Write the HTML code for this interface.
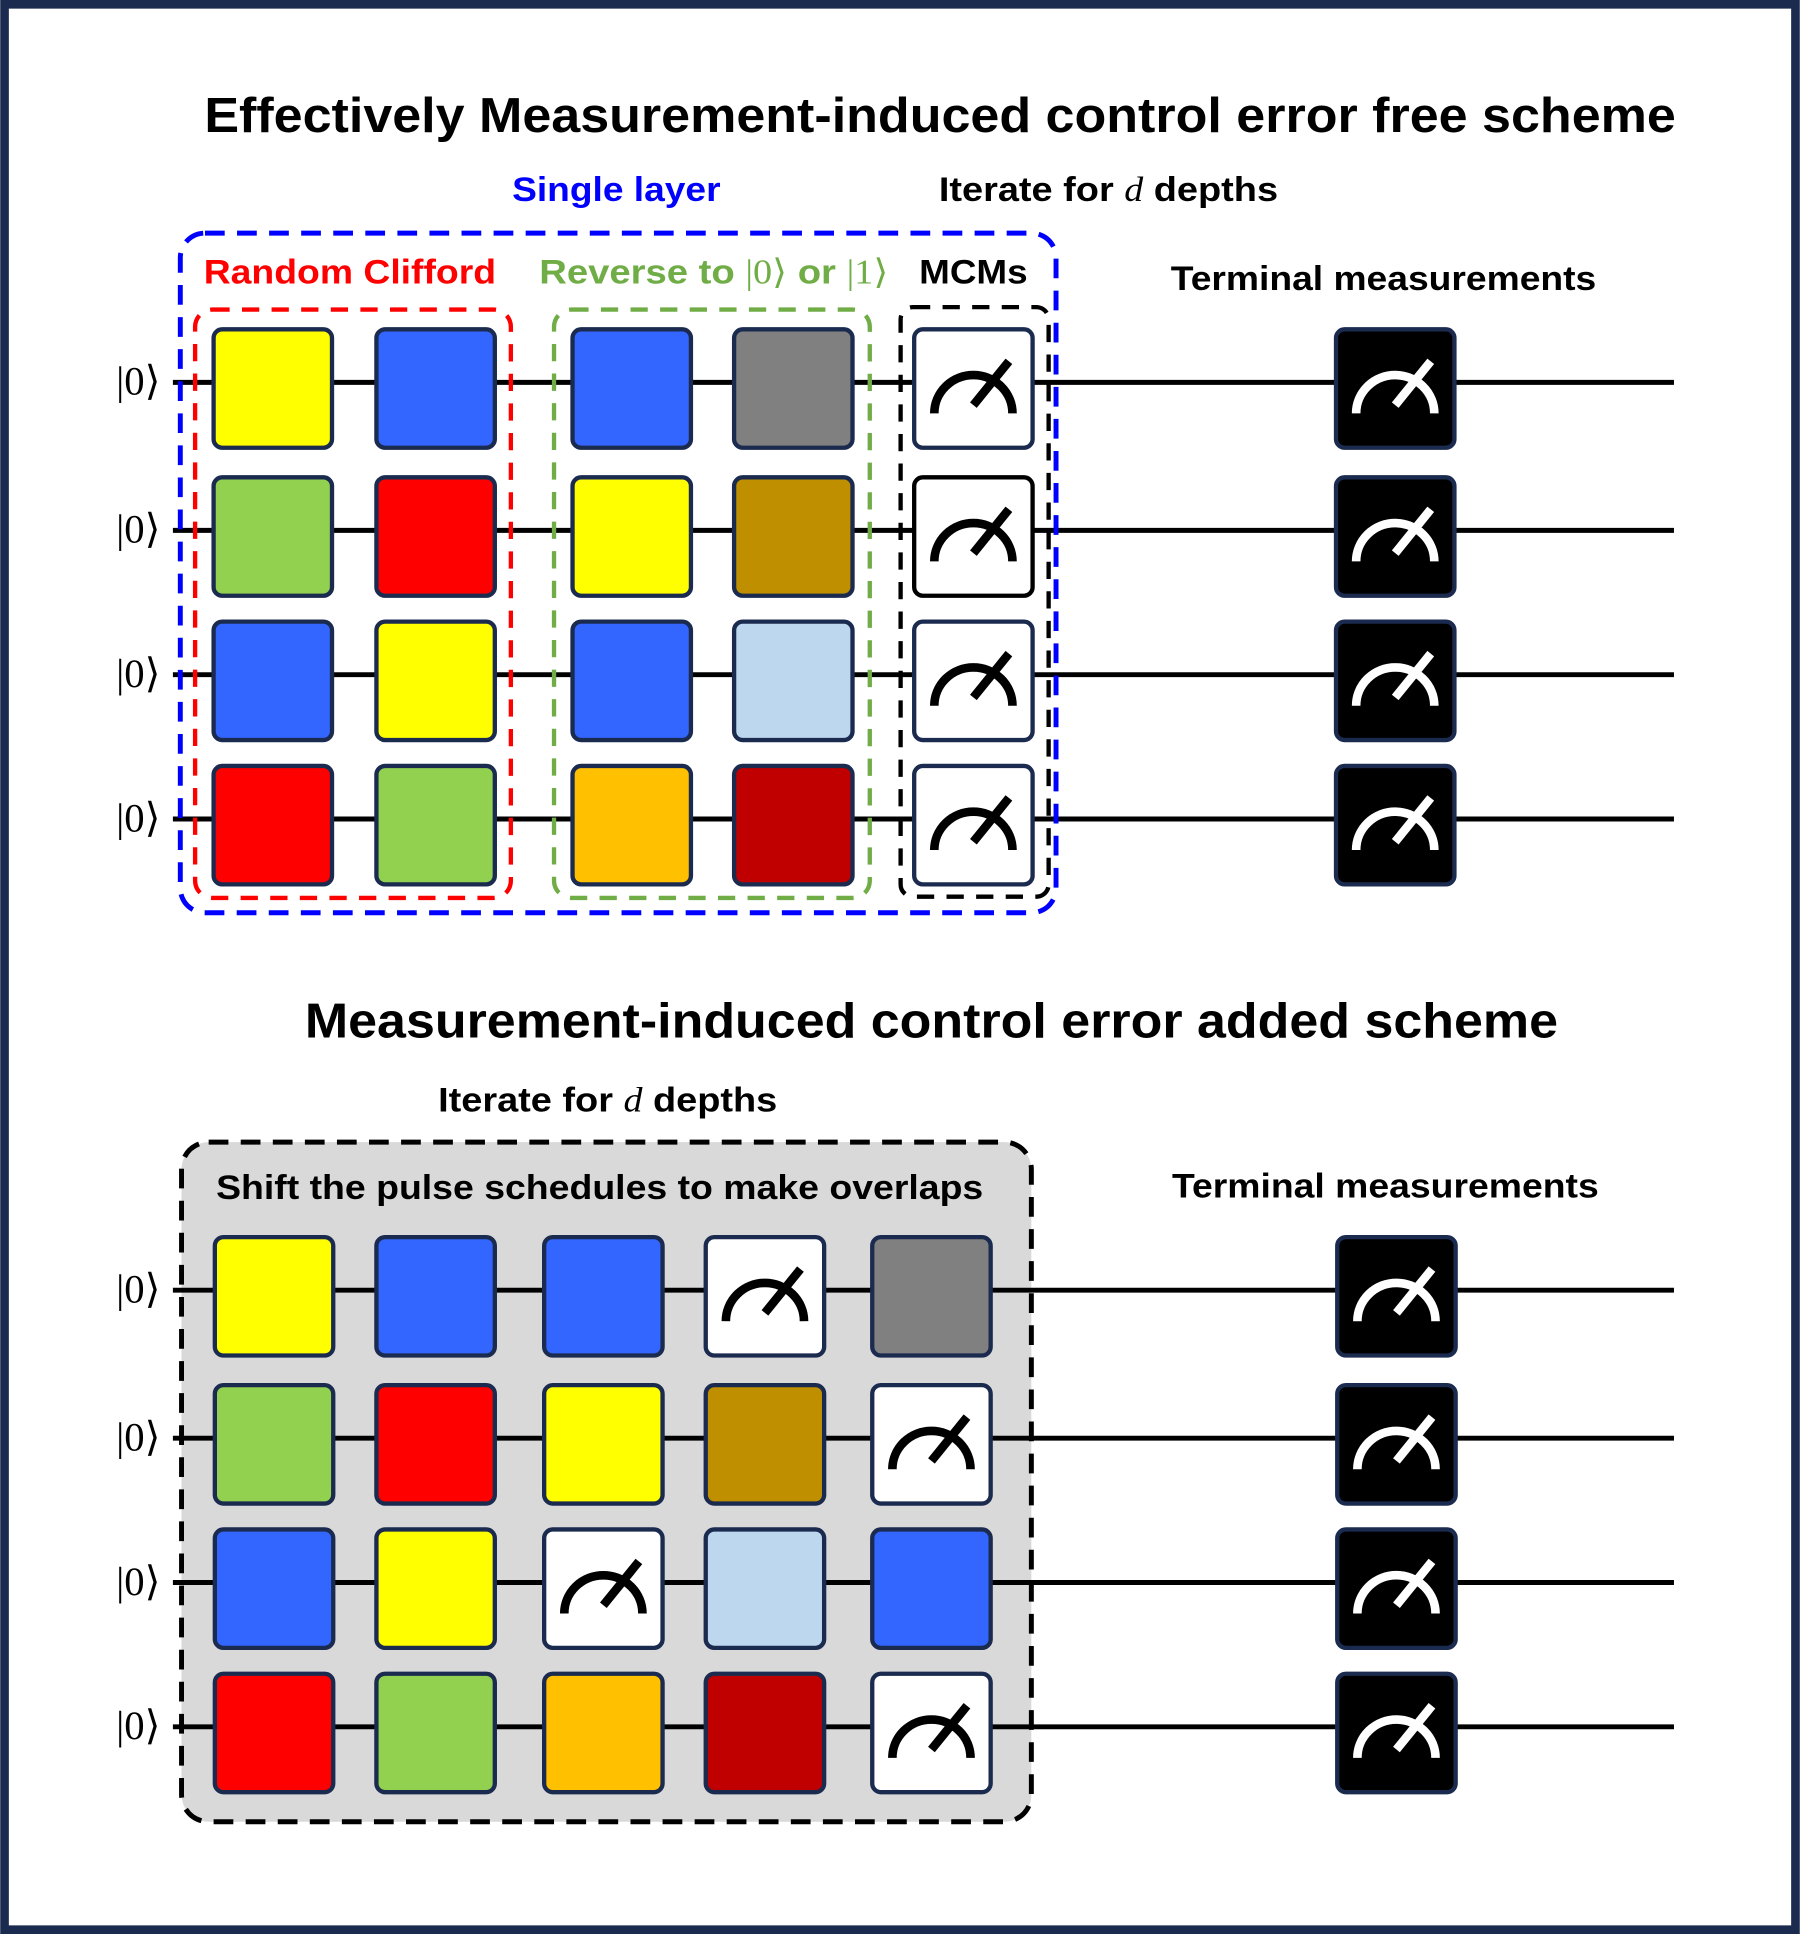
<!DOCTYPE html>
<html><head><meta charset="utf-8"><style>
html,body{margin:0;padding:0;background:#fff}
svg{display:block}
text{font-family:"Liberation Sans",Arial,sans-serif;font-weight:bold}
.ket{font-family:"Liberation Serif",serif;font-weight:normal;font-size:33px}
</style></head><body>
<svg id="fig" width="1800" height="1934" viewBox="0 0 1459 1568" xmlns="http://www.w3.org/2000/svg">
<rect x="3.5" y="3.5" width="1452" height="1561" fill="#fff" stroke="#1b2b4f" stroke-width="7"/>
<text x="762" y="107" font-size="40" text-anchor="middle" textLength="1193" lengthAdjust="spacingAndGlyphs">Effectively Measurement-induced control error free scheme</text>
<text x="415" y="163" font-size="28" fill="#0000ff" textLength="169" lengthAdjust="spacingAndGlyphs">Single layer</text>
<text x="761" y="163" font-size="28" textLength="275" lengthAdjust="spacingAndGlyphs">Iterate for <tspan font-family="Liberation Serif" font-style="italic" font-weight="normal">d</tspan> depths</text>
<text x="949" y="235" font-size="28" textLength="345" lengthAdjust="spacingAndGlyphs">Terminal measurements</text>
<g id="top-wires"></g>
<rect x="146" y="189" width="710" height="551" rx="20" fill="none" stroke="#0000ff" stroke-width="4" stroke-dasharray="16,10"/>
<rect x="158" y="251" width="256" height="477" rx="14" fill="none" stroke="#ff0000" stroke-width="3.5" stroke-dasharray="14,10"/>
<rect x="449" y="251" width="256" height="477" rx="14" fill="none" stroke="#70ad47" stroke-width="3.5" stroke-dasharray="14,10"/>
<rect x="730" y="249" width="120" height="478" rx="10" fill="none" stroke="#000" stroke-width="3.5" stroke-dasharray="14,10"/>
<text x="165" y="230" font-size="28" fill="#ff0000" textLength="237" lengthAdjust="spacingAndGlyphs">Random Clifford</text>
<text x="437" y="230" font-size="28" fill="#70ad47" textLength="283" lengthAdjust="spacingAndGlyphs">Reverse to <tspan font-family="Liberation Serif" font-weight="normal">|0⟩</tspan> or <tspan font-family="Liberation Serif" font-weight="normal">|1⟩</tspan></text>
<text x="745" y="230" font-size="28" textLength="88" lengthAdjust="spacingAndGlyphs">MCMs</text>
<g id="top-gates"></g>

<text x="755" y="841" font-size="40" text-anchor="middle" textLength="1016" lengthAdjust="spacingAndGlyphs">Measurement-induced control error added scheme</text>
<text x="355" y="901" font-size="28" textLength="275" lengthAdjust="spacingAndGlyphs">Iterate for <tspan font-family="Liberation Serif" font-style="italic" font-weight="normal">d</tspan> depths</text>
<rect x="147" y="926" width="689" height="551" rx="22" fill="#d9d9d9" stroke="#000" stroke-width="4" stroke-dasharray="16,10"/>
<text x="175" y="972" font-size="28" textLength="622" lengthAdjust="spacingAndGlyphs">Shift the pulse schedules to make overlaps</text>
<text x="950" y="971" font-size="28" textLength="346" lengthAdjust="spacingAndGlyphs">Terminal measurements</text>
<g id="bottom-wires"></g>
<g id="bottom-gates"></g>
</svg>
<script>
// Gate layouts: colour codes per row; "M" = mid-circuit measurement (white)
const topRows = [
  ["Y","B","B","G","M"],
  ["L","R","Y","D","M"],
  ["B","Y","B","S","M"],
  ["R","L","O","K","M"]
];
const bottomRows = [
  ["Y","B","B","M","G"],
  ["L","R","Y","D","M"],
  ["B","Y","M","S","B"],
  ["R","L","O","K","M"]
];
const colours = {Y:"#ffff00",B:"#3366ff",G:"#808080",L:"#92d050",R:"#ff0000",D:"#bf8f00",S:"#bdd7ee",O:"#ffc000",K:"#c00000"};
const topWireY = [310,430,547,664];
const bottomWireY = [1046,1166,1283,1400];
const topCols = [173,305,464,595,741];
const bottomCols = [174,305,441,572,707];
const NS="http://www.w3.org/2000/svg";
function mk(tag,attrs,parent){const e=document.createElementNS(NS,tag);for(const k in attrs)e.setAttribute(k,attrs[k]);parent.appendChild(e);return e;}
function meter(g,x,y,w,h,col){
  const cx=x+w*0.5, cy=y+h*0.71, r=w*0.33;
  const arc=mk('path',{d:`M${cx-r},${cy} A${r},${r*0.98} 0 0 1 ${cx+r},${cy}`,fill:'none',stroke:col,'stroke-width':7},g);
  
  
  const nd=mk('line',{x1:x+w*0.5,y1:y+h*0.64,x2:x+w*0.8,y2:y+h*0.27,stroke:col,'stroke-width':7},g);
  
  
}
function build(rows,wireY,cols,termX,wg,gg,prefix){
  wireY.forEach((y,i)=>{
    const w=mk('line',{x1:140,y1:y,x2:1357,y2:y,stroke:'#000','stroke-width':4},wg);
    
    
    const t=mk('text',{x:94,y:y+10,class:'ket'},wg);
    t.textContent='|0⟩';
    
    
    const ty=y-43;
    rows[i].forEach((c,j)=>{
      const x=cols[j];
      const g=mk('g',{},gg);
      
      
      const fill = c==="M" ? "#ffffff" : colours[c];
      const stroke = c==="M" && prefix==='top' && i===1 ? "#000" : "#1b2b4f";
      mk('rect',{x:x,y:ty,width:96,height:96,rx:7,fill:fill,stroke:stroke,'stroke-width':3.5},g);
      if(c==="M") meter(g,x,ty,96,96,'#000');
    });
    const tg=mk('g',{},gg);
    
    
    mk('rect',{x:termX,y:ty,width:96,height:96,rx:7,fill:'#000',stroke:'#1b2b4f','stroke-width':3.5},tg);
    meter(tg,termX,ty,96,96,'#fff');
  });
}
build(topRows,topWireY,topCols,1083,document.getElementById('top-wires'),document.getElementById('top-gates'),'top');
build(bottomRows,bottomWireY,bottomCols,1084,document.getElementById('bottom-wires'),document.getElementById('bottom-gates'),'bottom');
</script>
</body></html>
